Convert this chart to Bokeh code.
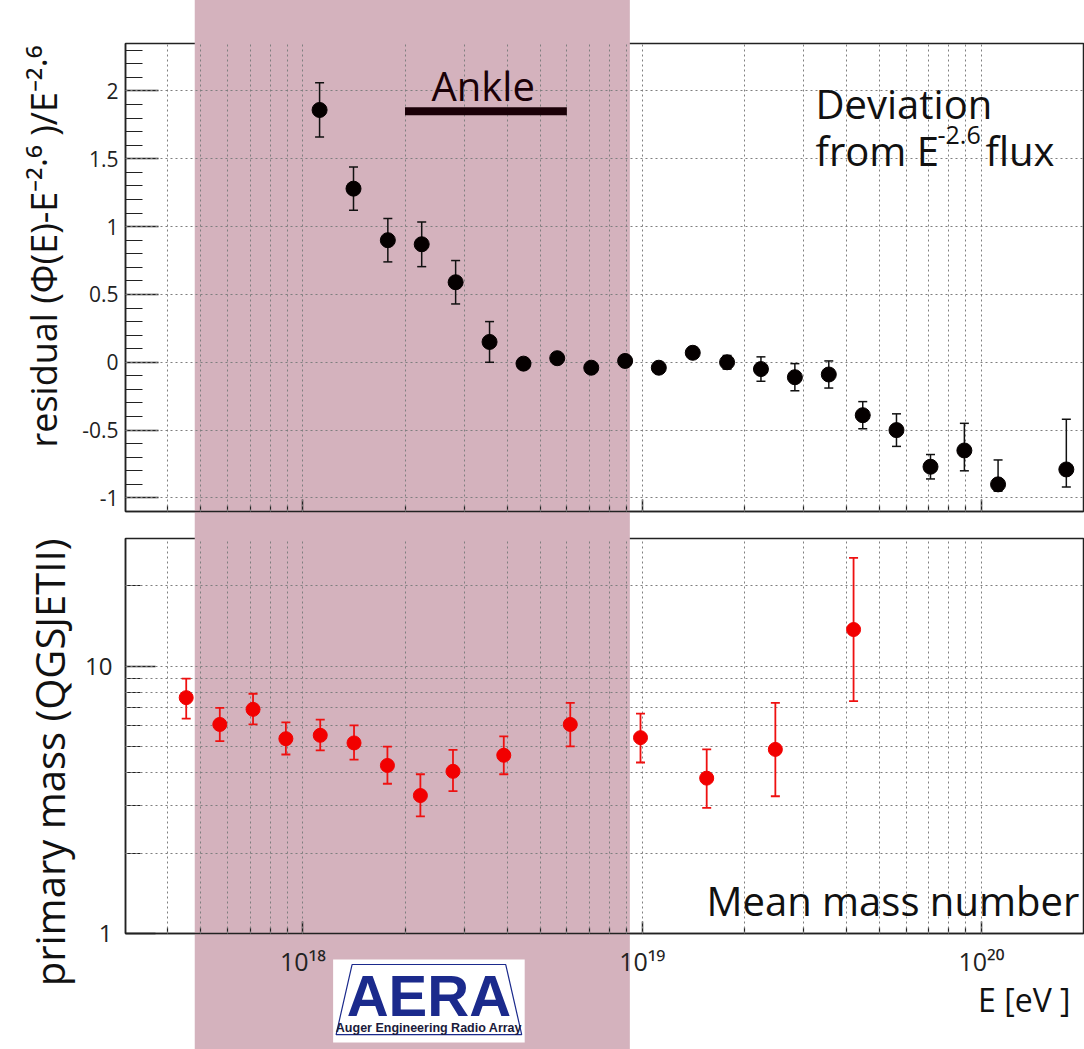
import numpy as np
from bokeh.plotting import figure
from bokeh.models import (ColumnDataSource, Whisker, TeeHead, Label, Title,
                          FixedTicker, CustomJSTickFormatter, Range1d)
from bokeh.layouts import column
from bokeh.embed import file_html
from bokeh.resources import INLINE

# ---------------- data ----------------
# top panel: residual of flux w.r.t. E^-2.6
res_E = [1.12e18, 1.41e18, 1.78e18, 2.24e18, 2.82e18, 3.55e18, 4.47e18, 5.62e18, 7.08e18, 8.91e18,
         1.12e19, 1.41e19, 1.78e19, 2.24e19, 2.82e19, 3.55e19, 4.47e19, 5.62e19, 7.08e19, 8.91e19,
         1.12e20, 1.78e20]
res_val = [1.86, 1.28, 0.90, 0.87, 0.59, 0.15, -0.01, 0.03, -0.04, 0.01,
           -0.04, 0.07, 0.00, -0.05, -0.11, -0.09, -0.39, -0.50, -0.77, -0.65,
           -0.90, -0.79]
res_err_up = [0.20, 0.16, 0.16, 0.165, 0.16, 0.15, 0.03, 0.03, 0.03, 0.03,
              0.03, 0.04, 0.05, 0.09, 0.10, 0.10, 0.10, 0.12, 0.09, 0.20,
              0.18, 0.37]
res_err_dn = [0.20, 0.16, 0.16, 0.165, 0.16, 0.15, 0.03, 0.03, 0.03, 0.03,
              0.03, 0.04, 0.05, 0.09, 0.10, 0.10, 0.10, 0.12, 0.09, 0.15,
              0.05, 0.13]

# bottom panel: mean mass number
mass_E = [4.53e17, 5.69e17, 7.13e17, 8.91e17, 1.125e18, 1.415e18, 1.775e18, 2.22e18,
          2.77e18, 3.91e18, 6.14e18, 9.89e18, 1.55e19, 2.47e19, 4.2e19]
mass_val = [7.62, 6.05, 6.89, 5.35, 5.51, 5.16, 4.25, 3.28, 4.04, 4.64, 6.05, 5.40, 3.81, 4.88, 13.7]
mass_hi = [8.97, 6.98, 7.88, 6.16, 6.31, 6.00, 5.00, 3.94, 4.86, 5.46, 7.28, 6.64, 4.88, 7.28, 25.4]
mass_lo = [6.36, 5.24, 6.05, 4.67, 4.84, 4.47, 3.63, 2.74, 3.41, 3.94, 5.01, 4.36, 2.95, 3.26, 7.40]

ankle_E = [2.0e18, 6.0e18]
ankle_y = [1.85, 1.85]
band_E = [4.8e17, 9.2e18]          # shaded energy interval (AERA range)

x_major = [1e18, 1e19, 1e20]
x_minor = [m * 10.0 ** d for d in (17, 18, 19, 20) for m in range(2, 10)
           if 3e17 < m * 10.0 ** d < 2e20]
res_major = [-1, -0.5, 0, 0.5, 1, 1.5, 2]
res_minor = [round(v, 2) for v in np.arange(-1.1, 2.36, 0.1)]
mass_major = [1, 10]
mass_minor = [2, 3, 4, 5, 6, 7, 8, 9, 20]

FONT = "Open Sans"
BAND = "#d4b2bd"
GRID = "#7f7f7f"
DARK = "#1a0007"
NAVY = "#1b2a8c"

res_src = ColumnDataSource(dict(
    x=res_E, y=res_val,
    upper=[v + u for v, u in zip(res_val, res_err_up)],
    lower=[v - d for v, d in zip(res_val, res_err_dn)]))
mass_src = ColumnDataSource(dict(x=mass_E, y=mass_val, upper=mass_hi, lower=mass_lo))

pow_fmt = CustomJSTickFormatter(code="""
const sup = {"0":"\u2070","1":"\u00b9","2":"\u00b2","3":"\u00b3","4":"\u2074",
             "5":"\u2075","6":"\u2076","7":"\u2077","8":"\u2078","9":"\u2079","-":"\u207b"};
const e = Math.round(Math.log10(tick));
return "10" + String(e).split("").map(c => sup[c]).join("");
""")
plain_fmt = CustomJSTickFormatter(code="return tick.toString();")
empty_fmt = CustomJSTickFormatter(code="return '';")


def style(p):
    p.outline_line_color = "#222222"
    p.outline_line_width = 1.5
    p.background_fill_color = "white"
    p.border_fill_color = "white"
    for ax in (p.xaxis[0], p.yaxis[0]):
        ax.axis_line_color = "#222222"
        ax.axis_line_width = 1.5
        ax.major_tick_line_color = "#222222"
        ax.minor_tick_line_color = "#222222"
        ax.major_tick_line_width = 1.5
        ax.minor_tick_line_width = 1.2
        ax.major_tick_out = 0
        ax.minor_tick_out = 0
        ax.major_label_text_font = FONT
        ax.major_label_text_color = "#222222"
    for g in (p.xgrid[0], p.ygrid[0]):
        g.grid_line_color = GRID
        g.grid_line_dash = "2 3"
        g.grid_line_width = 1
        g.level = "annotation"
    p.xgrid.minor_grid_line_color = GRID
    p.xgrid.minor_grid_line_dash = "2 3"
    p.xgrid.minor_grid_line_width = 1


def band(p, y_lo, y_hi):
    # shaded energy band, drawn at guide level so that it also covers the margins
    r = p.quad(left=[band_E[0]], right=[band_E[1]], bottom=[y_lo], top=[y_hi],
               fill_color=BAND, line_color=None)
    r.level = "guide"


# ---------------- top panel ----------------
p1 = figure(x_axis_type="log", x_range=Range1d(3e17, 2e20), y_range=Range1d(-1.1, 2.35),
            frame_width=958, frame_height=468,
            min_border_left=125, min_border_right=1, min_border_top=43, min_border_bottom=14,
            output_backend="svg", toolbar_location=None)
band(p1, -3, 5)
style(p1)
p1.xaxis.ticker = FixedTicker(ticks=x_major, minor_ticks=x_minor)
p1.xaxis.formatter = empty_fmt
p1.xaxis.major_label_text_font_size = "1px"
p1.xaxis.major_label_standoff = 0
p1.xaxis.major_tick_in = 12
p1.xaxis.minor_tick_in = 6
p1.yaxis.ticker = FixedTicker(ticks=res_major, minor_ticks=res_minor)
p1.yaxis.formatter = plain_fmt
p1.yaxis.major_label_text_font_size = "21px"
p1.yaxis.major_label_standoff = 7
p1.yaxis.major_tick_in = 33
p1.yaxis.minor_tick_in = 17

p1.add_layout(Title(text="residual (\u03a6(E)-E\u207b\u00b2\u00b7\u2076 )/E\u207b\u00b2\u00b7\u2076",
                    align="right", vertical_align="top", offset=2, standoff=19, text_font=FONT,
                    text_font_size="36px", text_font_style="normal", text_color="#111111"),
              "left")

r = p1.line(ankle_E, ankle_y, line_width=8, line_color=DARK, line_cap="butt")
r.level = "overlay"
w1 = Whisker(source=res_src, base="x", upper="upper", lower="lower",
             dimension="height", line_color="#111111", line_width=1.5,
             upper_head=TeeHead(size=9, line_color="#111111", line_width=1.5),
             lower_head=TeeHead(size=9, line_color="#111111", line_width=1.5))
w1.level = "annotation"
p1.add_layout(w1)
r = p1.scatter("x", "y", source=res_src, size=15, fill_color="#050000", line_color="#050000")
r.level = "overlay"

for lab in [
    Label(x=3.4e18, y=2.04, text="Ankle", text_font=FONT, text_font_size="40px",
          text_align="center", text_baseline="alphabetic", text_color=DARK),
    Label(x=690, y=408, x_units="screen", y_units="screen", text="Deviation",
          text_font=FONT, text_font_size="40px", text_color="#111111", text_baseline="alphabetic"),
    Label(x=690, y=361, x_units="screen", y_units="screen", text="from E",
          text_font=FONT, text_font_size="40px", text_color="#111111", text_baseline="alphabetic"),
    Label(x=812, y=377, x_units="screen", y_units="screen", text="-2.6",
          text_font=FONT, text_font_size="25px", text_color="#111111", text_baseline="alphabetic"),
    Label(x=860, y=361, x_units="screen", y_units="screen", text="flux",
          text_font=FONT, text_font_size="40px", text_color="#111111", text_baseline="alphabetic"),
]:
    lab.level = "overlay"
    p1.add_layout(lab)

# ---------------- bottom panel ----------------
p2 = figure(x_axis_type="log", y_axis_type="log",
            x_range=Range1d(3e17, 2e20), y_range=Range1d(1, 30),
            frame_width=958, frame_height=395,
            min_border_left=125, min_border_right=1, min_border_top=13, min_border_bottom=116,
            output_backend="svg", toolbar_location=None)
band(p2, 0.05, 200)
style(p2)
p2.ygrid.minor_grid_line_color = GRID
p2.ygrid.minor_grid_line_dash = "2 3"
p2.xaxis.ticker = FixedTicker(ticks=x_major, minor_ticks=x_minor)
p2.xaxis.formatter = pow_fmt
p2.xaxis.major_label_text_font_size = "25px"
p2.xaxis.major_label_standoff = 10
p2.xaxis.major_tick_in = 12
p2.xaxis.minor_tick_in = 6
p2.yaxis.ticker = FixedTicker(ticks=mass_major, minor_ticks=mass_minor)
p2.yaxis.formatter = plain_fmt
p2.yaxis.major_label_text_font_size = "24px"
p2.yaxis.major_label_standoff = 13
p2.yaxis.major_tick_in = 30
p2.yaxis.minor_tick_in = 15

p2.add_layout(Title(text="primary mass (QGSJETII)", align="right", vertical_align="top",
                    offset=0, standoff=8,
                    text_font=FONT, text_font_size="40px", text_font_style="normal",
                    text_color="#111111"), "left")
p2.add_layout(Title(text="E [eV ]", align="right", offset=13, standoff=-10,
                    text_font=FONT, text_font_size="32px", text_font_style="normal",
                    text_color="#111111"), "below")

w2 = Whisker(source=mass_src, base="x", upper="upper", lower="lower",
             dimension="height", line_color="#ee1111", line_width=1.8,
             upper_head=TeeHead(size=9, line_color="#ee1111", line_width=1.8),
             lower_head=TeeHead(size=9, line_color="#ee1111", line_width=1.8))
w2.level = "annotation"
p2.add_layout(w2)
r = p2.scatter("x", "y", source=mass_src, size=14, fill_color="#f20000", line_color="#f20000")
r.level = "overlay"

lab = Label(x=581, y=33, x_units="screen", y_units="screen", text="Mean mass number",
            text_font=FONT, text_font_size="40px", text_color="#111111",
            text_baseline="alphabetic")
lab.level = "overlay"
p2.add_layout(lab)


# AERA logo (approximation) below the axis; placed via canvas-pixel helpers
def xd(px):
    return 10 ** (18 + (px - 302.7) / 340.0)


def yd(py):
    return 10 ** (-(py - 933.0) / 267.3)


r = p2.quad(left=[xd(333)], right=[xd(525)], top=[yd(959)], bottom=[yd(1042)],
            fill_color="white", line_color=None)
r.level = "overlay"
r = p2.patch([xd(352), xd(506), xd(522), xd(336)], [yd(964), yd(964), yd(1034), yd(1034)],
             fill_color=None, line_color=NAVY, line_width=1.2)
r.level = "overlay"
r = p2.text(x=[xd(429)], y=[yd(995)], text=["AERA"], text_font={"value": "Liberation Sans"},
            text_font_style="bold", text_font_size="58px", text_color=NAVY,
            text_align="center", text_baseline="alphabetic")
r.level = "overlay"
r = p2.text(x=[xd(429)], y=[yd(1027)], text=["Auger Engineering Radio Array"],
            text_font={"value": "Liberation Sans"}, text_font_style="bold",
            text_font_size="12.5px", text_color="#1a1a3a",
            text_align="center", text_baseline="alphabetic")
r.level = "overlay"

layout = column(p1, p2, spacing=0)
open("out.html", "w").write(file_html(layout, INLINE))
